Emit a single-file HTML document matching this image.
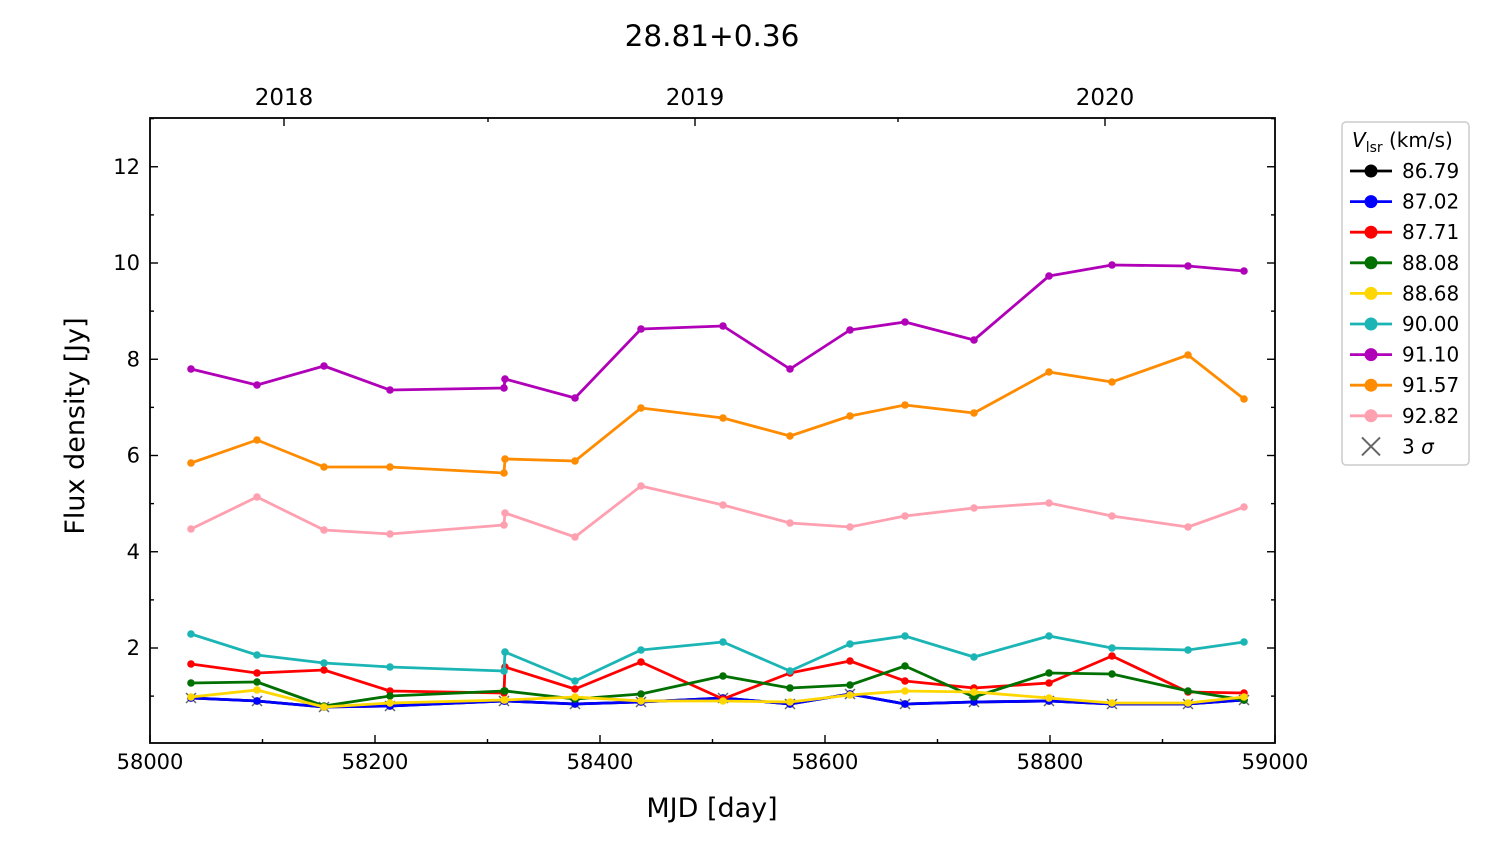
<!DOCTYPE html>
<html><head><meta charset="utf-8"><style>
html,body{margin:0;padding:0;background:#fff;}
svg{display:block;font-family:"DejaVu Sans","Liberation Sans",sans-serif;}
</style></head><body>
<svg id="s" width="1500" height="844" viewBox="0 0 1500 844" xmlns="http://www.w3.org/2000/svg">
<rect x="0" y="0" width="1500" height="844" fill="#fff"/>
<text x="712" y="46" font-size="29.5" text-anchor="middle">28.81+0.36</text>
<g id="ticks"></g>
<g id="data"></g>
<rect x="150" y="118" width="1125" height="625" fill="none" stroke="#000" stroke-width="1.8"/>
<text x="712" y="817" font-size="27" text-anchor="middle">MJD [day]</text>
<text transform="translate(84,426) rotate(-90)" font-size="27" text-anchor="middle">Flux density [Jy]</text>
<rect x="1342" y="122" width="127" height="343" rx="4" fill="#fff" stroke="#ccc" stroke-width="1.5"/>
<text x="1352" y="147" font-size="20"><tspan font-style="italic">V</tspan><tspan font-size="14" dy="5">lsr</tspan><tspan dy="-5"> (km/s)</tspan></text>
<g id="leg"></g>
</svg>
<script>
var NS="http://www.w3.org/2000/svg";
function el(p,t,a,txt){var e=document.createElementNS(NS,t);for(var k in a)e.setAttribute(k,a[k]);if(txt!=null)e.textContent=txt;p.appendChild(e);return e;}
var T=document.getElementById('ticks');
for(var v=0;v<=1000;v+=100){var x=150+v*1.125;var maj=v%200==0;
 el(T,'line',{x1:x,x2:x,y1:743,y2:743-(maj?8:4),stroke:'#000','stroke-width':1.4});
 if(maj)el(T,'text',{x:x,y:769,'font-size':21,'text-anchor':'middle'},String(58000+v));}
function Y(f){return 744.25-48.125*f;}
for(var f=1;f<=13;f++){var y=Y(f);var maj=f%2==0;
 el(T,'line',{x1:150,x2:150+(maj?8:4),y1:y,y2:y,stroke:'#000','stroke-width':1.4});
 el(T,'line',{x1:1275,x2:1275-(maj?8:4),y1:y,y2:y,stroke:'#000','stroke-width':1.4});
 if(maj&&f<=12)el(T,'text',{x:140,y:y+7,'font-size':21,'text-anchor':'end'},String(f));}
[[284,'2018',1],[488,'',0],[695,'2019',1],[898,'',0],[1105,'2020',1]].forEach(function(a){
 el(T,'line',{x1:a[0],x2:a[0],y1:118,y2:118+(a[2]?8:4),stroke:'#000','stroke-width':1.4});
 if(a[1])el(T,'text',{x:a[0],y:105,'font-size':23,'text-anchor':'middle'},a[1]);});
var X=[191,257,324,390,504,505,575,641,723,790,850,905,974,1049,1112,1188,1244];
var S=[
['#000',[698,701,707,706,701,701,704,702,698,704,694,704,702,701,704,704,700]],
['#0000ff',[698,701,707,706,701,701,704,702,698,704,694,704,702,701,704,704,700]],
['#ff0000',[664,673,670,691,693,667,689,662,699,673,661,681,688,683,656,692,693]],
['#007000',[683,682,706,696,691,691,699,694,676,688,685,666,697,673,674,691,700]],
['#ffd700',[697,690,707,703,700,700,697,701,701,702,695,691,692,698,703,703,697]],
['#1bb5b5',[634,655,663,667,671,652,681,650,642,671,644,636,657,636,648,650,642]],
['#b000b8',[369,385,366,390,388,379,398,329,326,369,330,322,340,276,265,266,271]],
['#ff8c00',[463,440,467,467,473,459,461,408,418,436,416,405,413,372,382,355,399]],
['#ffa0b0',[529,497,530,534,525,513,537,486,505,523,527,516,508,503,516,527,507]]];
var D=document.getElementById('data');
var xs=[0,1,2,3,4,6,7,8,9,10,11,12,13,14,15,16];
xs.forEach(function(i){var x=X[i],y=S[1][1][i];
 el(D,'path',{d:'M'+(x-5)+' '+(y-5)+'L'+(x+5)+' '+(y+5)+'M'+(x-5)+' '+(y+5)+'L'+(x+5)+' '+(y-5),stroke:'#666','stroke-width':1.5});});
S.forEach(function(s){var p=X.map(function(x,i){return x+','+s[1][i];}).join(' ');
 el(D,'polyline',{points:p,fill:'none',stroke:s[0],'stroke-width':2.8,'stroke-linejoin':'round'});
 X.forEach(function(x,i){el(D,'circle',{cx:x,cy:s[1][i],r:3.8,fill:s[0]});});});
var names=['86.79','87.02','87.71','88.08','88.68','90.00','91.10','91.57','92.82'];
var L=document.getElementById('leg');
names.forEach(function(n,i){var y=171+i*30.6;
 el(L,'line',{x1:1350,x2:1392,y1:y,y2:y,stroke:S[i][0],'stroke-width':2.8});
 el(L,'circle',{cx:1371,cy:y,r:6.5,fill:S[i][0]});
 el(L,'text',{x:1402,y:y+7,'font-size':20},n);});
var y=171+9*30.6;
el(L,'path',{d:'M1362 '+(y-9)+'L1380 '+(y+9)+'M1362 '+(y+9)+'L1380 '+(y-9),stroke:'#666','stroke-width':2});
var t=el(L,'text',{x:1402,y:y+7,'font-size':20},'3 ');
el(t,'tspan',{'font-style':'italic'},'σ');
</script>
</body></html>
